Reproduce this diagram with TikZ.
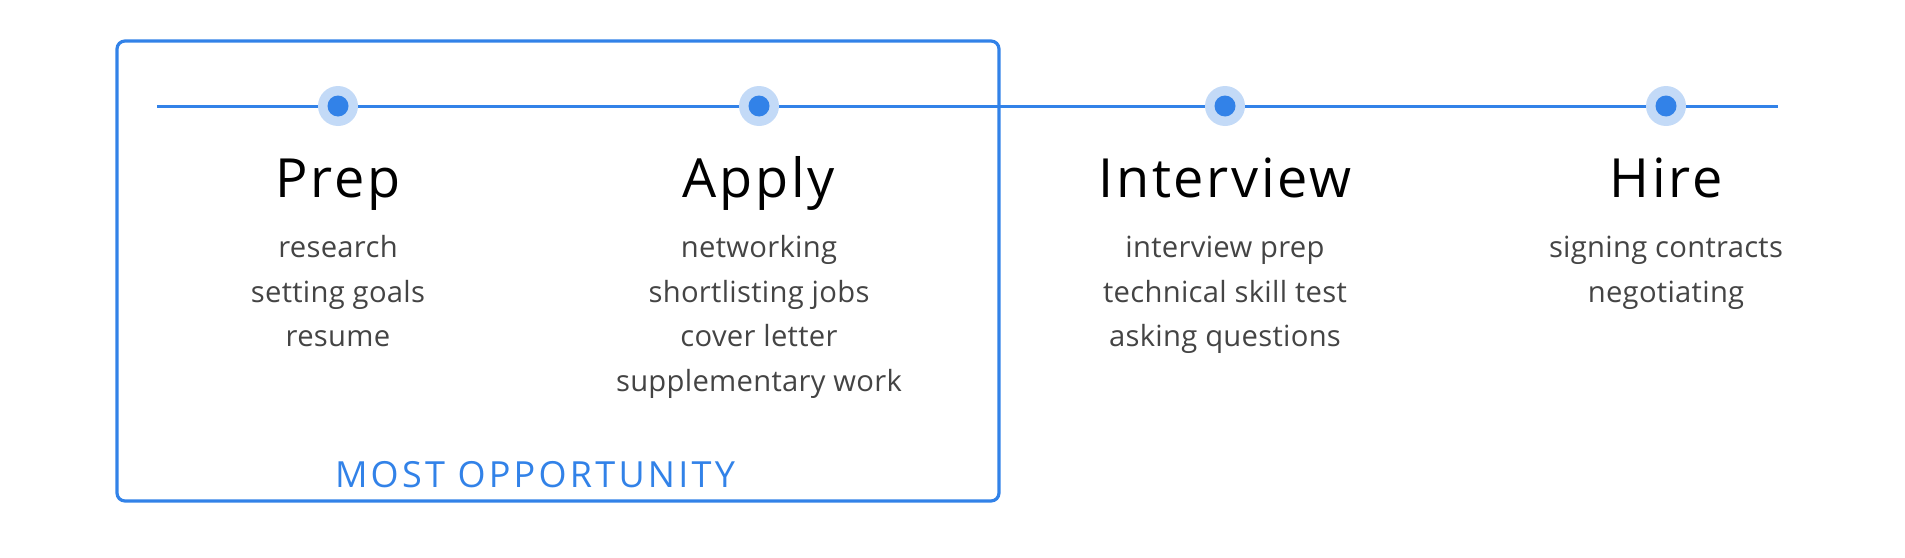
\documentclass[tikz,border=0pt]{standalone}
\usepackage{fontspec}
\setmainfont{Open Sans}
\definecolor{lineblue}{HTML}{3282E8}
\definecolor{haloblue}{HTML}{C3DAF7}
\definecolor{taskgray}{HTML}{444444}

\begin{document}
\begin{tikzpicture}[x=0.5pt, y=-0.5pt,
  halo/.style={circle, fill=haloblue, minimum size=20pt, inner sep=0pt},
  dot/.style={circle, fill=lineblue, minimum size=10.5pt, inner sep=0pt},
  stage/.style={anchor=base, inner sep=0pt, font=\fontsize{27}{30}\selectfont\addfontfeatures{LetterSpace=5}},
  task/.style={anchor=base, inner sep=0pt, text=taskgray, font=\fontsize{14.6}{18}\selectfont\addfontfeatures{LetterSpace=1}}]
  \useasboundingbox (0,0) rectangle (1905,557);

  % the frame round the first two stages
  \draw[lineblue, line width=1.6pt, rounded corners=4pt] (117,41) rectangle (999,501);
  \node[anchor=base, inner sep=0pt, text=lineblue,
        font=\fontsize{18}{20}\selectfont\addfontfeatures{LetterSpace=9}] (most) at (535,487) {MOST OPPORTUNITY};

  % timeline
  \coordinate (start) at (157,106);
  \coordinate (end) at (1778,106);
  \draw[lineblue, line width=1.5pt] (start) -- (end);

  % stage dots and titles
  \foreach \x/\name/\title in {338/prep/Prep, 759/apply/Apply, 1225/interview/Interview, 1666/hire/Hire} {
    \node[halo] (\name halo) at (\x,106) {};
    \node[dot] (\name) at (\x,106) {};
    \node[stage] (\name title) at (\x,197) {\title};
  }

  % tasks under each stage
  \foreach \y/\txt [count=\i] in {257/research, 302/setting goals, 346/resume}
    \node[task] (prep\i) at (338,\y) {\txt};
  \foreach \y/\txt [count=\i] in {257/networking, 302/shortlisting jobs, 346/cover letter, 391/supplementary work}
    \node[task] (apply\i) at (759,\y) {\txt};
  \foreach \y/\txt [count=\i] in {257/interview prep, 302/technical skill test, 346/asking questions}
    \node[task] (interview\i) at (1225,\y) {\txt};
  \foreach \y/\txt [count=\i] in {257/signing contracts, 302/negotiating}
    \node[task] (hire\i) at (1666,\y) {\txt};
\end{tikzpicture}
\end{document}
